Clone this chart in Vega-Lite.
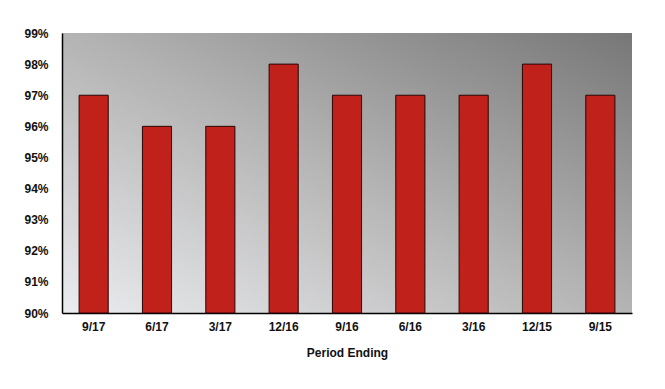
{
  "$schema": "https://vega.github.io/schema/vega-lite/v6.json",
  "width": 570,
  "height": 280,
  "autosize": {"type": "none"},
  "padding": {"left": 62, "top": 33, "right": 33, "bottom": 76},
  "background": "white",
  "config": {
    "view": {
      "stroke": null,
      "fill": {
        "gradient": "linear",
        "x1": 0, "y1": 1, "x2": 1, "y2": 0,
        "stops": [
          {"offset": 0, "color": "#ebecef"},
          {"offset": 0.5, "color": "#b4b4b4"},
          {"offset": 1, "color": "#777777"}
        ]
      }
    },
    "axis": {
      "labelFont": "Liberation Sans",
      "titleFont": "Liberation Sans",
      "labelFontWeight": "bold",
      "titleFontWeight": "bold",
      "labelFontSize": 12,
      "titleFontSize": 12,
      "labelColor": "#111111",
      "titleColor": "#111111",
      "domainColor": "#000000",
      "domainWidth": 1.5,
      "ticks": false,
      "grid": false
    }
  },
  "data": {
    "values": [
      {"period": "9/17", "value": 0.97},
      {"period": "6/17", "value": 0.96},
      {"period": "3/17", "value": 0.96},
      {"period": "12/16", "value": 0.98},
      {"period": "9/16", "value": 0.97},
      {"period": "6/16", "value": 0.97},
      {"period": "3/16", "value": 0.97},
      {"period": "12/15", "value": 0.98},
      {"period": "9/15", "value": 0.97}
    ]
  },
  "mark": {"type": "bar", "color": "#c0211a", "stroke": "#2a0505", "strokeWidth": 1},
  "encoding": {
    "x": {
      "field": "period",
      "type": "nominal",
      "sort": null,
      "scale": {"paddingInner": 0.54, "paddingOuter": 0.27},
      "axis": {"title": "Period Ending", "labelAngle": 0, "labelPadding": 8, "titlePadding": 15}
    },
    "y": {
      "field": "value",
      "type": "quantitative",
      "scale": {"domain": [0.9, 0.99], "zero": false, "nice": false},
      "axis": {"title": null, "format": ".0%", "values": [0.9, 0.91, 0.92, 0.93, 0.94, 0.95, 0.96, 0.97, 0.98, 0.99], "labelPadding": 14}
    },
    "y2": {"datum": 0.9}
  }
}
